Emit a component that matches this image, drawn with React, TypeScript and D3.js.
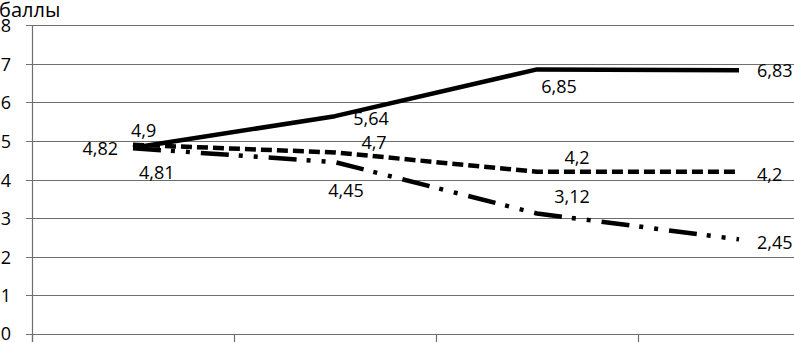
import { useMemo } from "react";
import * as d3 from "d3";

// четыре этапа, подписей по оси X нет
const stages = ["1", "2", "3", "4"];
const yTicks = [0, 1, 2, 3, 4, 5, 6, 7, 8];

const solidValues = [4.82, 5.64, 6.85, 6.83];
const dashedValues = [4.9, 4.7, 4.2, 4.2];
const dashDotValues = [4.81, 4.45, 3.12, 2.45];

const solidLabels = ["4,82", "5,64", "6,85", "6,83"];
const dashedLabels = ["4,9", "4,7", "4,2", "4,2"];
const dashDotLabels = ["4,81", "4,45", "3,12", "2,45"];

interface Series {
  values: number[];
  labels: string[];
  dash: string;
  // смещения подписей относительно точки
  offsets: [number, number, string][];
}

const W = 794;
const H = 342;
const FONT = "'Open Sans', 'Liberation Sans', sans-serif";

const App = () => {
  const x = useMemo(
    () => d3.scaleBand<string>().domain(stages).range([32, 840]),
    []
  );
  const y = useMemo(() => d3.scaleLinear().domain([0, 8]).range([334, 25]), []);
  const cx = (i: number) => x(stages[i])! + x.bandwidth() / 2;

  const series: Series[] = [
    {
      values: solidValues,
      labels: solidLabels,
      dash: "",
      offsets: [
        [-15, 7, "end"],
        [36, 9, "middle"],
        [22, 24, "middle"],
        [18, 7, "start"],
      ],
    },
    {
      values: dashedValues,
      labels: dashedLabels,
      dash: "11,5",
      offsets: [
        [-2, -8, "start"],
        [39, -3, "middle"],
        [40, -8, "middle"],
        [18, 9, "start"],
      ],
    },
    {
      values: dashDotValues,
      labels: dashDotLabels,
      dash: "28,10,4,11,4,11",
      offsets: [
        [6, 31, "start"],
        [11, 35, "middle"],
        [35, -10, "middle"],
        [18, 10, "start"],
      ],
    },
  ];

  const line = d3
    .line<number>()
    .x((_d, i) => cx(i))
    .y((d) => y(d));

  return (
    <svg
      width={W}
      height={H}
      style={{ position: "absolute", left: 0, top: 0, background: "#fff" }}
      fontFamily={FONT}
    >
      <text x={-1} y={17} fontSize={20} fill="#000">
        баллы
      </text>
      {yTicks.map((t) => (
        <g key={t}>
          <line
            x1={26}
            x2={W}
            y1={Math.round(y(t)) + 0.5}
            y2={Math.round(y(t)) + 0.5}
            stroke="#6e6e6e"
            strokeWidth={1.2}
          />
          <text
            x={11}
            y={Math.min(y(t) + 7, 340)}
            fontSize={18}
            textAnchor="end"
            fill="#000"
          >
            {t}
          </text>
        </g>
      ))}
      <line x1={32.5} x2={32.5} y1={y(8)} y2={H} stroke="#6e6e6e" strokeWidth={1.2} />
      {stages.map((s) => (
        <line
          key={s}
          x1={Math.round(x(s)!) + 0.5}
          x2={Math.round(x(s)!) + 0.5}
          y1={y(0)}
          y2={H}
          stroke="#6e6e6e"
          strokeWidth={1.2}
        />
      ))}
      {series.map((s, k) => (
        <g key={k}>
          <path
            d={line(s.values) ?? ""}
            fill="none"
            stroke="#000"
            strokeWidth={4.5}
            strokeDasharray={s.dash || undefined}
            strokeLinejoin="round"
          />
          {s.values.map((v, i) => (
            <text
              key={i}
              x={cx(i) + s.offsets[i][0]}
              y={y(v) + s.offsets[i][1]}
              fontSize={18}
              textAnchor={s.offsets[i][2]}
              fill="#000"
            >
              {s.labels[i]}
            </text>
          ))}
        </g>
      ))}
    </svg>
  );
};

export default App;
